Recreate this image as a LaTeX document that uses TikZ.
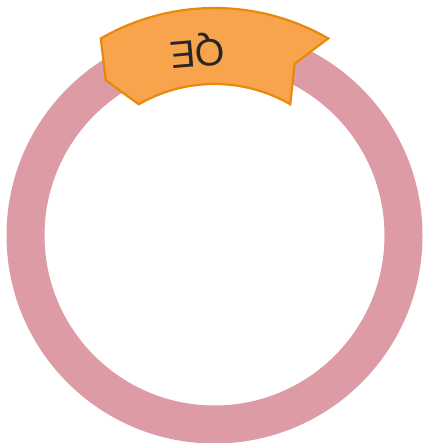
\documentclass[tikz,border=0pt]{standalone}
\usepackage{fontspec}
\setmainfont{Liberation Sans}
\definecolor{ringcol}{RGB}{220,155,165}
\definecolor{banfill}{RGB}{248,164,76}
\definecolor{bandraw}{RGB}{232,137,10}
\definecolor{txtcol}{RGB}{38,38,38}
\tikzset{
  ringstyle/.style={draw=ringcol, line width=38pt},
  bannerstyle/.style={fill=banfill, draw=bandraw, line width=2.2pt, line join=miter},
  labelstyle/.style={text=txtcol, font=\fontsize{38}{42}\selectfont, inner sep=0pt}
}
\begin{document}
\begin{tikzpicture}[x=1pt,y=1pt]
\useasboundingbox (0,0) rectangle (422,-443);
\begin{scope}[shift={(214.5,-235.5)}]
  \coordinate (c) at (0,0);
  \draw[ringstyle] (c) circle[radius=189];
  \draw[bannerstyle] (120:227.5) arc[start angle=120, end angle=60, radius=227.5]
     -- (65:189.5) -- (60:151.5)
     arc[start angle=60, end angle=120, radius=151.5]
     -- (125:189.5) -- cycle;
  \node[labelstyle, rotate=185] (lbl) at (95.3:186) {QE};
\end{scope}
\end{tikzpicture}
\end{document}
